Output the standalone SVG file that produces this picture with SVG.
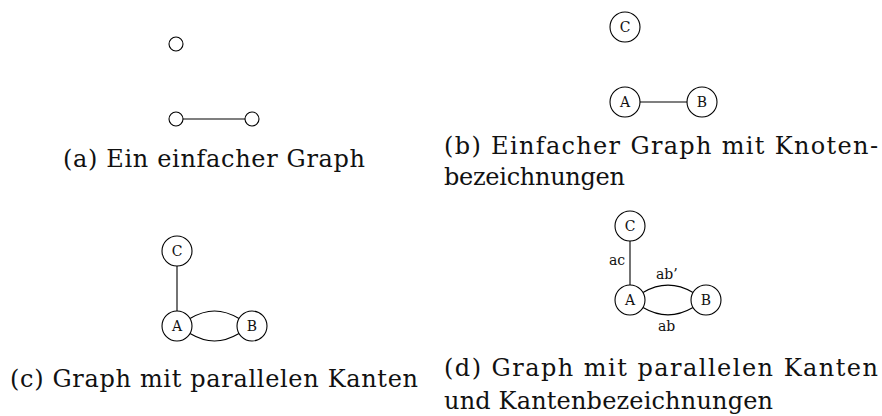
<svg xmlns="http://www.w3.org/2000/svg" width="882" height="416" viewBox="0 0 882 416">
<style>
.n{fill:#fff;stroke:#000;stroke-width:1.1}
.e{fill:none;stroke:#000;stroke-width:1.1}
.lb{font-family:'DejaVu Serif','Liberation Serif',serif;font-size:14px;fill:#111}
.cap{font-family:'DejaVu Serif','Liberation Serif',serif;font-size:24px;fill:#111}
</style>
<rect width="882" height="416" fill="#fff"/>
<g id="connectors">
<line class="e" x1="183" y1="119" x2="245" y2="119"/>
<line class="e" x1="640" y1="102" x2="687" y2="102"/>
<line class="e" x1="177" y1="266" x2="177" y2="311"/>
<path class="e" d="M190,318.5 C207,308.5 222,308.5 239,318.5"/>
<path class="e" d="M190,333.5 C207,343.5 222,343.5 239,333.5"/>
<line class="e" x1="630" y1="241" x2="630" y2="285"/>
<path class="e" d="M643,292.5 C660,282.5 676,282.5 693,292.5"/>
<path class="e" d="M643,307.5 C660,317.5 676,317.5 693,307.5"/>
<text class="lb" x="609" y="265">ac</text>
<text class="lb" x="656" y="279">ab’</text>
<text class="lb" x="658" y="331">ab</text>
</g>
<g id="a-top"><circle class="n" cx="176" cy="44" r="7"/></g>
<g id="a-left"><circle class="n" cx="176" cy="119" r="7"/></g>
<g id="a-right"><circle class="n" cx="252" cy="119" r="7"/></g>
<g id="b-C"><circle class="n" cx="625" cy="27" r="15"/><text class="lb" x="625" y="32" text-anchor="middle">C</text></g>
<g id="b-A"><circle class="n" cx="625" cy="102" r="15"/><text class="lb" x="625" y="107" text-anchor="middle">A</text></g>
<g id="b-B"><circle class="n" cx="702" cy="102" r="15"/><text class="lb" x="702" y="107" text-anchor="middle">B</text></g>
<g id="c-C"><circle class="n" cx="177" cy="251" r="15"/><text class="lb" x="177" y="256" text-anchor="middle">C</text></g>
<g id="c-A"><circle class="n" cx="177" cy="326" r="15"/><text class="lb" x="177" y="331" text-anchor="middle">A</text></g>
<g id="c-B"><circle class="n" cx="252" cy="326" r="15"/><text class="lb" x="252" y="331" text-anchor="middle">B</text></g>
<g id="d-C"><circle class="n" cx="630" cy="226" r="15"/><text class="lb" x="630" y="231" text-anchor="middle">C</text></g>
<g id="d-A"><circle class="n" cx="630" cy="300" r="15"/><text class="lb" x="630" y="305" text-anchor="middle">A</text></g>
<g id="d-B"><circle class="n" cx="706" cy="300" r="15"/><text class="lb" x="706" y="305" text-anchor="middle">B</text></g>
<g id="captions">
<text class="cap" x="63" y="167" textLength="302" lengthAdjust="spacing">(a) Ein einfacher Graph</text>
<text class="cap" x="444" y="154" textLength="434" lengthAdjust="spacing">(b) Einfacher Graph mit Knoten-</text>
<text class="cap" x="444" y="185" textLength="181" lengthAdjust="spacing">bezeichnungen</text>
<text class="cap" x="10" y="387" textLength="408" lengthAdjust="spacing">(c) Graph mit parallelen Kanten</text>
<text class="cap" x="444" y="376" textLength="434" lengthAdjust="spacing">(d) Graph mit parallelen Kanten</text>
<text class="cap" x="444" y="409" textLength="329" lengthAdjust="spacing">und Kantenbezeichnungen</text>
</g>
</svg>
